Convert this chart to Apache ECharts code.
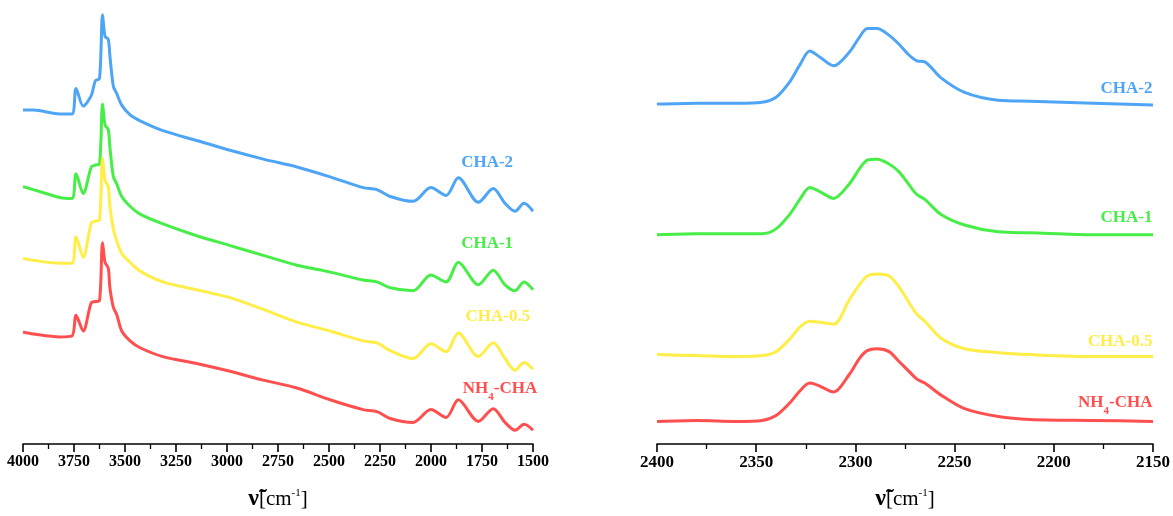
<!DOCTYPE html>
<html><head><meta charset="utf-8">
<script src="https://cdn.jsdelivr.net/npm/echarts@6/dist/echarts.min.js"></script>
<style>html,body{margin:0;padding:0;background:#fff}#c{width:1173px;height:516px}</style>
</head><body><div id="c"></div>
<script>
// Left panel: full range spectra (wavenumber, cm-1)
const wnLeft = [4000,3950,3820,3760,3740,3705,3665,3645,3625,3610,3598,3582,3574,3557,3541,3516,3475,3426,3314,3149,2985,2822,2657,2495,2333,2265,2200,2087,2001,1926,1866,1768,1695,1637,1588,1544,1500];
const cha2Left  = [3.40,3.40,3.36,3.36,3.62,3.44,3.55,3.70,3.72,4.37,4.15,4.12,3.95,3.64,3.57,3.45,3.35,3.29,3.19,3.09,2.99,2.90,2.82,2.72,2.61,2.59,2.52,2.47,2.61,2.53,2.71,2.46,2.60,2.45,2.37,2.45,2.37];
const cha1Left  = [2.62,2.59,2.51,2.50,2.75,2.55,2.82,2.84,2.85,3.46,3.25,3.20,3.02,2.72,2.65,2.52,2.42,2.34,2.24,2.12,2.02,1.92,1.82,1.75,1.67,1.65,1.59,1.56,1.72,1.65,1.85,1.62,1.77,1.62,1.56,1.65,1.57];
const cha05Left = [1.89,1.87,1.84,1.84,2.11,1.90,2.25,2.27,2.28,2.91,2.69,2.62,2.42,2.19,2.07,1.94,1.85,1.76,1.65,1.57,1.49,1.37,1.24,1.15,1.05,1.03,0.95,0.87,1.02,0.94,1.13,0.89,1.03,0.87,0.75,0.83,0.76];
const nh4Left   = [1.14,1.12,1.09,1.10,1.31,1.15,1.44,1.45,1.46,2.05,1.85,1.79,1.59,1.39,1.32,1.15,1.05,0.98,0.89,0.82,0.74,0.65,0.57,0.45,0.35,0.33,0.26,0.22,0.35,0.27,0.45,0.23,0.36,0.22,0.14,0.20,0.14];

// Right panel: 2400-2150 cm-1 region
const wnRight = [2400,2380,2360,2347,2340,2333,2328,2323,2318,2311,2303,2298,2294,2289,2283,2278,2273,2269,2265,2257,2245,2228,2212,2180,2150];
const cha2Right  = [3.46,3.47,3.47,3.48,3.53,3.69,3.86,4.00,3.94,3.85,3.99,4.14,4.23,4.23,4.16,4.07,3.96,3.90,3.89,3.73,3.58,3.50,3.49,3.47,3.45];
const cha1Right  = [2.13,2.14,2.14,2.14,2.19,2.34,2.49,2.61,2.57,2.50,2.65,2.80,2.89,2.90,2.85,2.77,2.64,2.54,2.49,2.34,2.23,2.16,2.15,2.13,2.13];
const cha05Right = [0.91,0.90,0.89,0.90,0.94,1.07,1.19,1.25,1.24,1.22,1.47,1.62,1.71,1.73,1.71,1.60,1.44,1.32,1.25,1.08,0.97,0.93,0.91,0.89,0.89];
const nh4Right   = [0.23,0.24,0.23,0.24,0.29,0.42,0.54,0.62,0.59,0.53,0.71,0.87,0.95,0.97,0.94,0.84,0.74,0.66,0.62,0.50,0.36,0.28,0.25,0.24,0.23];

const seriesNames = ['CHA-2','CHA-1','CHA-0.5','NH4-CHA'];
const labelTexts = ['CHA-2','CHA-1','CHA-0.5','{t|NH}{s|4}{t|-CHA}'];
const colors = ['#4FA5F5','#47EE47','#FFEE47','#FF4F4F'];
// label anchor positions in data units [wavenumber, value]
const labelLeftWn = [1725,1725,1672,1662];
const labelLeftVal = [2.86,2.04,1.30,0.56];
const labelRightWn = [2150,2150,2150,2150];
const labelRightVal = [3.62,2.30,1.04,0.42];

const leftData = [cha2Left, cha1Left, cha05Left, nh4Left];
const rightData = [cha2Right, cha1Right, cha05Right, nh4Right];

const serif = '"Liberation Serif", "DejaVu Serif", serif';

function zip(xs, ys){ return xs.map((x,i)=>[x, ys[i]]); }

function mkAxis(gi, min, max, interval, fs){
  return {
    type:'value', gridIndex:gi, min:min, max:max, interval:interval, inverse:true,
    axisLine:{show:true, onZero:false, lineStyle:{color:'#000', width:1.6}},
    axisTick:{show:true, length:8, lineStyle:{color:'#000', width:1.6}},
    minorTick:{show:true, splitNumber:2, length:5, lineStyle:{color:'#000', width:1.3}},
    splitLine:{show:false},
    axisLabel:{show:true, color:'#000', fontFamily:serif, fontWeight:'bold', fontSize:fs, margin:10,
      showMinLabel:true, showMaxLabel:true, formatter:(v)=>String(v)},
    name:'{v|ν̃}{b|[cm}{sup|-1}{b|]}', nameLocation:'middle', nameGap:43,
    nameTextStyle:{color:'#000', fontFamily:serif, rich:{
      v:{fontFamily:serif, fontSize:24, fontWeight:'bold', color:'#000'},
      b:{fontFamily:serif, fontSize:21, color:'#000'},
      sup:{fontFamily:serif, fontSize:11, color:'#000', padding:[0,0,12,0]}
    }}
  };
}

const series = [];
[leftData, rightData].forEach((set, gi)=>{
  const xs = gi===0 ? wnLeft : wnRight;
  set.forEach((vals, k)=>{
    const lx = gi===0 ? labelLeftWn[k] : labelRightWn[k];
    const ly = gi===0 ? labelLeftVal[k] : labelRightVal[k];
    series.push({
      type:'line', name:seriesNames[k], xAxisIndex:gi, yAxisIndex:gi,
      data: zip(xs, vals), showSymbol:false, smooth:0.3,
      lineStyle:{color:colors[k], width:3}, itemStyle:{color:colors[k]},
      silent:true, animation:false,
      markPoint:{
        symbol:'circle', symbolSize:1, itemStyle:{color:'rgba(0,0,0,0)'}, animation:false, silent:true,
        data:[{coord:[lx, ly], value:0}],
        label:{show:true, position: gi===0 ? 'inside' : 'left', distance:0,
          formatter: labelTexts[k], color:colors[k], fontFamily:serif, fontWeight:'bold', fontSize:17,
          rich:{
            t:{fontFamily:serif, fontWeight:'bold', fontSize:17, color:colors[k]},
            s:{fontFamily:serif, fontWeight:'bold', fontSize:11, color:colors[k], padding:[16,0,0,0]}
          }}
      }
    });
  });
});

const chart = echarts.init(document.getElementById('c'), null, {renderer:'canvas'});
chart.setOption({
  animation:false,
  backgroundColor:'#fff',
  grid:[
    {left:23, right:640, top:0, bottom:64},
    {left:657, right:17, top:0, bottom:64}
  ],
  xAxis:[ mkAxis(0, 1500, 4000, 250, 16), mkAxis(1, 2150, 2400, 50, 17) ],
  yAxis:[
    {type:'value', gridIndex:0, min:0, max:4.52, show:false},
    {type:'value', gridIndex:1, min:0, max:4.52, show:false}
  ],
  series: series
});
</script>
</body></html>
